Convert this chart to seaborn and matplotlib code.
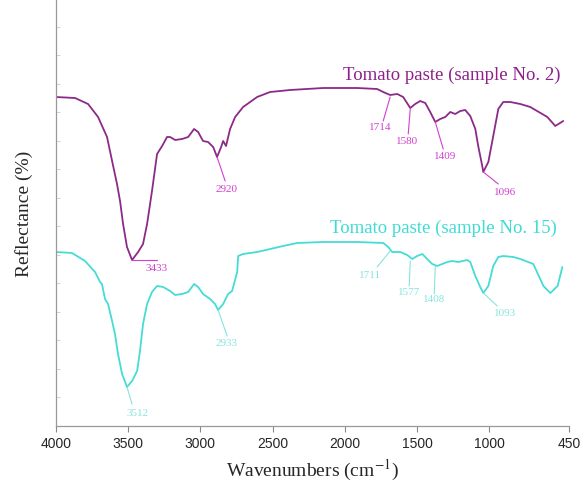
import matplotlib
matplotlib.use('Agg')
import matplotlib.pyplot as plt
from matplotlib.ticker import MultipleLocator
import seaborn as sns
import pandas as pd

# FTIR spectra (y in arbitrary units, 0 = bottom axis)
wn_2 = [4000, 3866, 3776, 3707, 3645, 3610, 3576, 3555, 3534, 3507, 3472, 3430,
        3396, 3368, 3334, 3299, 3264, 3230, 3209, 3174, 3126, 3084, 3043, 3015,
        2981, 2946, 2911, 2884, 2856, 2842, 2822, 2794, 2759, 2704, 2607, 2517,
        2379, 2150, 1915, 1777, 1735, 1687, 1638, 1597, 1548, 1514, 1479, 1444,
        1410, 1375, 1341, 1306, 1271, 1237, 1202, 1168, 1133, 1098, 1078, 1050,
        1043, 1008, 974, 939, 905, 856, 787, 718, 600, 545, 490]
refl_2 = [329, 328, 322, 309, 289, 265, 242, 225, 202, 179, 166, 174,
          182, 202, 235, 272, 280, 289, 289, 286, 287, 289, 297, 294,
          285, 284, 279, 269, 279, 285, 280, 297, 309, 319, 329, 334,
          336, 338, 338, 337, 334, 331, 332, 329, 318, 322, 325, 323,
          314, 304, 307, 309, 314, 312, 315, 316, 310, 297, 280, 260,
          254, 264, 290, 317, 324, 324, 322, 319, 309, 300, 305]

wn_15 = [4000, 3887, 3797, 3728, 3693, 3680, 3659, 3638, 3610, 3590, 3569, 3541,
         3507, 3472, 3437, 3417, 3396, 3368, 3334, 3299, 3257, 3209, 3174, 3126,
         3084, 3043, 3015, 2981, 2932, 2898, 2877, 2842, 2808, 2780, 2745, 2738,
         2704, 2607, 2517, 2427, 2330, 2150, 1915, 1735, 1700, 1673, 1617, 1569,
         1534, 1500, 1465, 1431, 1396, 1361, 1327, 1292, 1258, 1216, 1154, 1133,
         1098, 1064, 1043, 1008, 974, 939, 905, 835, 787, 697, 627, 579, 529, 496]
refl_15 = [174, 173, 165, 154, 144, 142, 127, 122, 105, 92, 72, 52,
           39, 45, 55, 75, 102, 122, 134, 140, 139, 135, 131, 132,
           134, 142, 139, 132, 127, 122, 116, 122, 132, 135, 154, 170,
           172, 174, 177, 180, 183, 184, 184, 183, 179, 174, 174, 171,
           167, 170, 172, 167, 162, 160, 162, 164, 165, 164, 166, 164,
           150, 139, 133, 140, 160, 169, 170, 169, 167, 162, 140, 133, 140, 159]

# peak labels: curve point, end of leader line, label position
peaks_2 = ['3433', '2920', '1714', '1580', '1409', '1096']
peak_x_2 = [3472, 2884, 1687, 1548, 1375, 1043]
peak_y_2 = [166, 269, 329, 317, 304, 254]
lead_x_2 = [3299, 2828, 1735, 1562, 1320, 939]
lead_y_2 = [166, 245, 305, 292, 277, 242]
text_x_2 = [3299, 2820, 1756, 1569, 1306, 891]
text_y_2 = [158, 237, 299, 285, 270, 234]

peaks_15 = ['3512', '2933', '1711', '1577', '1408', '1093']
peak_x_15 = [3507, 2877, 1687, 1548, 1375, 1043]
peak_y_15 = [39, 116, 175, 165, 160, 133]
lead_x_15 = [3472, 2814, 1777, 1555, 1382, 946]
lead_y_15 = [22, 90, 159, 140, 132, 120]
text_x_15 = [3437, 2820, 1825, 1555, 1382, 891]
text_y_15 = [13, 83, 151, 134, 127, 113]

names = ['Tomato paste (sample No. 2)', 'Tomato paste (sample No. 15)']
title_x = [510, 531]
title_y = [352, 199]

line_colors = ['#8c2a88', '#45dcd6']
label_colors = ['#d23fd0', '#86e4de']
title_colors = ['#8e1f8b', '#3fdcd5']

df = pd.concat([
    pd.DataFrame({'wn': wn_2, 'refl': refl_2, 'sample': names[0]}),
    pd.DataFrame({'wn': wn_15, 'refl': refl_15, 'sample': names[1]}),
])

sns.set_style("white")
plt.rcParams['font.family'] = ['Liberation Serif', 'DejaVu Serif']
plt.rcParams['mathtext.fontset'] = 'stix'

fig = plt.figure(figsize=(5.82, 4.89), dpi=100)
ax = fig.add_axes([0.0957, 0.1268, 0.882, 0.8732])

sns.lineplot(data=df, x='wn', y='refl', hue='sample', palette=line_colors,
             estimator=None, sort=False, linewidth=1.3, legend=False, ax=ax)

groups = [
    (peaks_2, peak_x_2, peak_y_2, lead_x_2, lead_y_2, text_x_2, text_y_2),
    (peaks_15, peak_x_15, peak_y_15, lead_x_15, lead_y_15, text_x_15, text_y_15),
]
for i, (labs, px, py, lx, ly, tx, ty) in enumerate(groups):
    for j in range(len(labs)):
        ax.plot([px[j], lx[j]], [py[j], ly[j]], color=label_colors[i], lw=0.8)
        ax.text(tx[j], ty[j], labs[j], color=label_colors[i], fontsize=8,
                ha='center', va='center')
    ax.text(title_x[i], title_y[i], names[i], color=title_colors[i],
            fontsize=13.5, ha='right', va='center')

ax.set_xlim(4000, 450)
ax.set_ylim(0, 427)
ax.set_xticks([4000, 3500, 3000, 2500, 2000, 1500, 1000, 450])
ax.set_xticklabels(['4000', '3500', '3000', '2500', '2000', '1500', '1000', '450'],
                   family='Liberation Sans', fontsize=10)
ax.yaxis.set_major_locator(MultipleLocator(28.5))
ax.set_yticklabels([])
ax.tick_params(axis='x', direction='out', length=4, width=0.8, color='#888888', pad=3)
ax.tick_params(axis='y', direction='in', length=3, width=0.6, color='#cccccc')
ax.tick_params(axis='y', left=True)
ax.tick_params(axis='x', bottom=True)

for side in ['top', 'right']:
    ax.spines[side].set_visible(False)
for side in ['left', 'bottom']:
    ax.spines[side].set_color('#999999')
    ax.spines[side].set_linewidth(0.9)

ax.set_xlabel('Wavenumbers (cm$^{-1}$)', fontsize=14, labelpad=5)
ax.set_ylabel('Reflectance (%)', fontsize=14, labelpad=13)

plt.savefig('out.png', dpi=100)
